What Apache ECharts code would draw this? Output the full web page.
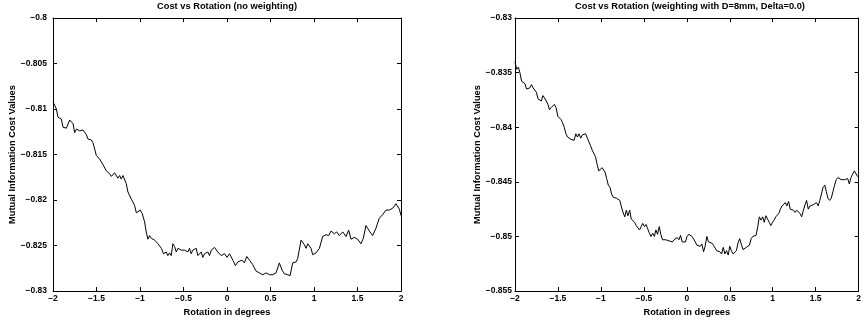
<!DOCTYPE html>
<html>
<head>
<meta charset="utf-8">
<script src="https://cdn.jsdelivr.net/npm/echarts@6/dist/echarts.min.js"></script>
<style>
  html, body { margin: 0; padding: 0; background: #fff; }
  #chart { width: 864px; height: 322px; }
</style>
</head>
<body>
<div id="chart"></div>
<script>
// Mutual information cost as a function of rotation, two weighting schemes.
const titles = ['Cost vs Rotation (no weighting)', 'Cost vs Rotation (weighting with D=8mm, Delta=0.0)'];
const xName = 'Rotation in degrees';
const yName = 'Mutual Information Cost Values';

const xRange = [-2, 2, 0.5];
const yRangeNoWeight = [-0.83, -0.8, 0.005];
const yRangeWeighted = [-0.855, -0.83, 0.005];

// [rotation (deg), cost]
const costNoWeight = [
  [-2.000,-0.8092],[-1.961,-0.8100],[-1.943,-0.8109],[-1.904,-0.8111],[-1.885,-0.8120],[-1.846,-0.8121],
  [-1.808,-0.8112],[-1.770,-0.8116],[-1.751,-0.8126],[-1.731,-0.8122],[-1.693,-0.8124],[-1.656,-0.8123],
  [-1.617,-0.8128],[-1.598,-0.8133],[-1.559,-0.8134],[-1.541,-0.8137],[-1.521,-0.8144],[-1.502,-0.8151],
  [-1.464,-0.8155],[-1.444,-0.8153],[-1.426,-0.8161],[-1.387,-0.8168],[-1.349,-0.8171],[-1.330,-0.8174],
  [-1.311,-0.8176],[-1.292,-0.8170],[-1.272,-0.8172],[-1.254,-0.8176],[-1.234,-0.8173],[-1.215,-0.8177],
  [-1.196,-0.8173],[-1.177,-0.8175],[-1.158,-0.8182],[-1.139,-0.8191],[-1.119,-0.8192],[-1.100,-0.8199],
  [-1.082,-0.8202],[-1.062,-0.8206],[-1.042,-0.8214],[-1.024,-0.8213],[-0.997,-0.8211],[-0.974,-0.8215],
  [-0.947,-0.8224],[-0.928,-0.8235],[-0.909,-0.8243],[-0.890,-0.8239],[-0.870,-0.8242],[-0.832,-0.8244],
  [-0.794,-0.8248],[-0.755,-0.8253],[-0.729,-0.8259],[-0.698,-0.8257],[-0.680,-0.8261],[-0.660,-0.8258],
  [-0.641,-0.8261],[-0.622,-0.8248],[-0.603,-0.8251],[-0.583,-0.8257],[-0.564,-0.8253],[-0.545,-0.8252],
  [-0.526,-0.8255],[-0.507,-0.8253],[-0.488,-0.8255],[-0.468,-0.8253],[-0.450,-0.8257],[-0.431,-0.8253],
  [-0.412,-0.8259],[-0.393,-0.8255],[-0.373,-0.8257],[-0.354,-0.8253],[-0.335,-0.8261],[-0.316,-0.8261],
  [-0.296,-0.8257],[-0.278,-0.8263],[-0.258,-0.8259],[-0.239,-0.8261],[-0.220,-0.8257],[-0.201,-0.8261],
  [-0.181,-0.8255],[-0.144,-0.8252],[-0.124,-0.8253],[-0.106,-0.8257],[-0.086,-0.8255],[-0.067,-0.8261],
  [-0.028,-0.8259],[0.000,-0.8263],[0.029,-0.8259],[0.067,-0.8266],[0.097,-0.8272],[0.124,-0.8268],
  [0.174,-0.8266],[0.200,-0.8269],[0.227,-0.8262],[0.258,-0.8266],[0.296,-0.8271],[0.334,-0.8278],
  [0.373,-0.8280],[0.411,-0.8282],[0.449,-0.8280],[0.488,-0.8282],[0.526,-0.8282],[0.564,-0.8280],
  [0.602,-0.8269],[0.633,-0.8277],[0.660,-0.8281],[0.698,-0.8282],[0.725,-0.8283],[0.755,-0.8269],
  [0.794,-0.8268],[0.813,-0.8264],[0.851,-0.8244],[0.889,-0.8249],[0.909,-0.8253],[0.928,-0.8248],
  [0.966,-0.8253],[0.985,-0.8260],[1.023,-0.8258],[1.062,-0.8253],[1.100,-0.8240],[1.138,-0.8238],
  [1.169,-0.8239],[1.196,-0.8234],[1.234,-0.8237],[1.260,-0.8235],[1.291,-0.8239],[1.330,-0.8235],
  [1.368,-0.8240],[1.398,-0.8233],[1.425,-0.8243],[1.463,-0.8241],[1.502,-0.8243],[1.540,-0.8248],
  [1.567,-0.8242],[1.597,-0.8228],[1.617,-0.8226],[1.643,-0.8235],[1.674,-0.8239],[1.712,-0.8231],
  [1.750,-0.8220],[1.789,-0.8216],[1.827,-0.8211],[1.865,-0.8211],[1.904,-0.8209],[1.942,-0.8204],
  [1.961,-0.8206],[1.981,-0.8210],[2.000,-0.8217]
];

const costWeighted = [
  [-2.000,-0.8340],[-1.981,-0.8347],[-1.961,-0.8345],[-1.943,-0.8350],[-1.923,-0.8358],[-1.885,-0.8360],
  [-1.866,-0.8365],[-1.828,-0.8364],[-1.808,-0.8361],[-1.789,-0.8364],[-1.771,-0.8365],[-1.751,-0.8368],
  [-1.732,-0.8374],[-1.713,-0.8373],[-1.694,-0.8376],[-1.674,-0.8371],[-1.656,-0.8370],[-1.636,-0.8376],
  [-1.617,-0.8379],[-1.599,-0.8384],[-1.579,-0.8382],[-1.560,-0.8383],[-1.541,-0.8379],[-1.522,-0.8382],
  [-1.502,-0.8390],[-1.464,-0.8393],[-1.445,-0.8396],[-1.427,-0.8400],[-1.407,-0.8406],[-1.388,-0.8409],
  [-1.350,-0.8411],[-1.312,-0.8412],[-1.292,-0.8406],[-1.273,-0.8409],[-1.255,-0.8406],[-1.235,-0.8410],
  [-1.216,-0.8407],[-1.197,-0.8408],[-1.178,-0.8406],[-1.158,-0.8410],[-1.120,-0.8417],[-1.101,-0.8421],
  [-1.063,-0.8427],[-1.044,-0.8434],[-1.025,-0.8440],[-1.006,-0.8439],[-0.986,-0.8437],[-0.971,-0.8437],
  [-0.952,-0.8441],[-0.933,-0.8447],[-0.914,-0.8453],[-0.894,-0.8455],[-0.876,-0.8461],[-0.857,-0.8464],
  [-0.819,-0.8465],[-0.780,-0.8467],[-0.761,-0.8473],[-0.742,-0.8478],[-0.722,-0.8482],[-0.704,-0.8476],
  [-0.685,-0.8481],[-0.665,-0.8476],[-0.647,-0.8484],[-0.627,-0.8483],[-0.608,-0.8487],[-0.589,-0.8490],
  [-0.570,-0.8491],[-0.550,-0.8494],[-0.532,-0.8491],[-0.513,-0.8488],[-0.493,-0.8491],[-0.475,-0.8489],
  [-0.455,-0.8493],[-0.436,-0.8497],[-0.417,-0.8500],[-0.398,-0.8497],[-0.378,-0.8500],[-0.360,-0.8494],
  [-0.341,-0.8498],[-0.321,-0.8491],[-0.303,-0.8498],[-0.283,-0.8503],[-0.264,-0.8502],[-0.245,-0.8503],
  [-0.226,-0.8502],[-0.206,-0.8504],[-0.188,-0.8503],[-0.169,-0.8505],[-0.149,-0.8503],[-0.131,-0.8503],
  [-0.111,-0.8501],[-0.092,-0.8503],[-0.073,-0.8499],[-0.054,-0.8505],[-0.034,-0.8506],[-0.016,-0.8505],
  [0.003,-0.8500],[0.023,-0.8498],[0.041,-0.8499],[0.061,-0.8500],[0.080,-0.8500],[0.099,-0.8505],
  [0.118,-0.8508],[0.138,-0.8507],[0.156,-0.8509],[0.175,-0.8507],[0.195,-0.8514],[0.213,-0.8509],
  [0.233,-0.8500],[0.252,-0.8505],[0.271,-0.8505],[0.290,-0.8506],[0.310,-0.8508],[0.328,-0.8509],
  [0.347,-0.8513],[0.367,-0.8512],[0.385,-0.8514],[0.405,-0.8516],[0.424,-0.8510],[0.443,-0.8516],
  [0.462,-0.8513],[0.482,-0.8517],[0.500,-0.8509],[0.519,-0.8513],[0.539,-0.8516],[0.557,-0.8515],
  [0.577,-0.8513],[0.596,-0.8506],[0.615,-0.8502],[0.634,-0.8507],[0.654,-0.8512],[0.672,-0.8511],
  [0.692,-0.8510],[0.711,-0.8509],[0.729,-0.8508],[0.749,-0.8502],[0.768,-0.8500],[0.787,-0.8500],
  [0.806,-0.8499],[0.826,-0.8491],[0.844,-0.8482],[0.864,-0.8485],[0.883,-0.8482],[0.901,-0.8487],
  [0.921,-0.8481],[0.940,-0.8482],[0.959,-0.8487],[0.978,-0.8490],[0.998,-0.8487],[1.016,-0.8485],
  [1.036,-0.8482],[1.055,-0.8481],[1.070,-0.8479],[1.089,-0.8475],[1.108,-0.8472],[1.127,-0.8473],
  [1.147,-0.8469],[1.165,-0.8472],[1.185,-0.8468],[1.204,-0.8475],[1.222,-0.8474],[1.242,-0.8476],
  [1.261,-0.8478],[1.280,-0.8476],[1.299,-0.8476],[1.319,-0.8479],[1.337,-0.8482],[1.357,-0.8476],
  [1.376,-0.8471],[1.394,-0.8467],[1.414,-0.8475],[1.433,-0.8472],[1.452,-0.8473],[1.471,-0.8471],
  [1.491,-0.8472],[1.509,-0.8469],[1.529,-0.8472],[1.548,-0.8467],[1.567,-0.8461],[1.586,-0.8455],
  [1.606,-0.8453],[1.624,-0.8459],[1.643,-0.8465],[1.663,-0.8467],[1.681,-0.8465],[1.701,-0.8459],
  [1.720,-0.8453],[1.739,-0.8448],[1.758,-0.8446],[1.778,-0.8447],[1.796,-0.8448],[1.815,-0.8449],
  [1.835,-0.8448],[1.853,-0.8449],[1.873,-0.8447],[1.892,-0.8452],[1.911,-0.8446],[1.930,-0.8443],
  [1.950,-0.8440],[1.968,-0.8441],[1.987,-0.8445],[2.000,-0.8446]
];

const FONT = '"Liberation Sans", Arial, Helvetica, sans-serif';
const fmt = v => String(Number(v.toFixed(4))).replace('-', '\u2212');

const panels = [
  { left: 53, title: titles[0], yr: yRangeNoWeight, data: costNoWeight, center: 227, labelMargin: 6, nameGap: 35 },
  { left: 515, title: titles[1], yr: yRangeWeighted, data: costWeighted, center: 690, labelMargin: 3, nameGap: 33 }
];
const GRID_TOP = 18, GRID_W = 348, GRID_H = 275;

const grid = [], xAxis = [], yAxis = [], series = [], title = [];
const tickText = { color: '#000', fontFamily: FONT, fontWeight: 'bold', fontSize: 8.5 };
const headText = { color: '#000', fontFamily: FONT, fontWeight: 'bold', fontSize: 9.3 };

panels.forEach((p, i) => {
  grid.push({ left: p.left, top: GRID_TOP, width: GRID_W, height: GRID_H, containLabel: false });
  title.push({
    text: p.title, left: p.center, top: 2, textAlign: 'center', padding: 0,
    textStyle: Object.assign({}, headText)
  });
  const tick = { show: true, inside: true, length: 4, lineStyle: { color: '#000', width: 1 } };
  const line = { show: true, onZero: false, lineStyle: { color: '#000', width: 1 } };
  // bottom axis with labels
  xAxis.push({
    type: 'value', gridIndex: i, position: 'bottom', min: xRange[0], max: xRange[1], interval: xRange[2],
    axisLine: line, axisTick: tick, splitLine: { show: false },
    axisLabel: Object.assign({}, tickText, { margin: 3, formatter: fmt, showMinLabel: true, showMaxLabel: true }),
    name: xName, nameLocation: 'middle', nameGap: 13,
    nameTextStyle: Object.assign({}, headText)
  });
  // top frame with ticks
  xAxis.push({
    type: 'value', gridIndex: i, position: 'top', min: xRange[0], max: xRange[1], interval: xRange[2],
    axisLine: line, axisTick: tick, axisLabel: { show: false }, splitLine: { show: false }
  });
  // left axis with labels
  yAxis.push({
    type: 'value', gridIndex: i, position: 'left', min: p.yr[0], max: p.yr[1], interval: p.yr[2],
    axisLine: line, axisTick: tick, splitLine: { show: false },
    axisLabel: Object.assign({}, tickText, { margin: p.labelMargin, formatter: fmt, showMinLabel: true, showMaxLabel: true }),
    name: yName, nameLocation: 'middle', nameGap: p.nameGap, nameRotate: 90,
    nameTextStyle: Object.assign({}, headText)
  });
  // right frame with ticks
  yAxis.push({
    type: 'value', gridIndex: i, position: 'right', min: p.yr[0], max: p.yr[1], interval: p.yr[2],
    axisLine: line, axisTick: tick, axisLabel: { show: false }, splitLine: { show: false }
  });
  series.push({
    type: 'line', xAxisIndex: i * 2, yAxisIndex: i * 2, data: p.data,
    showSymbol: false, symbol: 'none', smooth: false,
    lineStyle: { color: '#000', width: 1 }, animation: false, silent: true
  });
});

const chart = echarts.init(document.getElementById('chart'), null, { renderer: 'canvas' });
chart.setOption({
  backgroundColor: '#fff',
  animation: false,
  title, grid, xAxis, yAxis, series
});
</script>
</body>
</html>
